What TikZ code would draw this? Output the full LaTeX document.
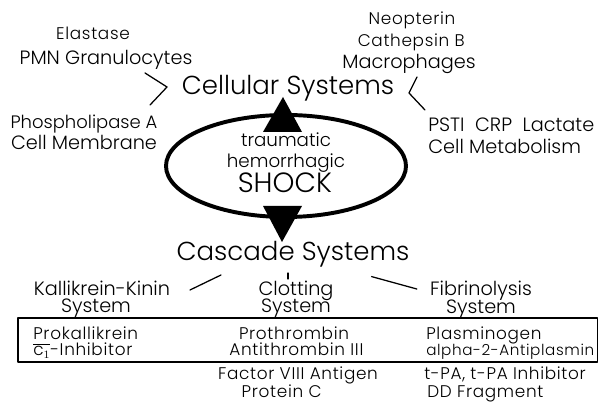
\documentclass[tikz,border=0pt]{standalone}
\usepackage{fontspec}
\setmainfont{Poppins}[UprightFont=* Light]
\usetikzlibrary{shapes.geometric,positioning,calc}

\begin{document}
\begin{tikzpicture}[
      small/.style={font={\fontsize{12}{14}\selectfont\addfontfeatures{LetterSpace=4}},
                    inner sep=0pt,text height=0.72em,text depth=0.18em,yshift=-0.07cm},
      medium/.style={font=\fontsize{13.7}{16}\selectfont,inner sep=0pt,
                    text height=0.72em,text depth=0.18em,yshift=-0.07cm},
      big/.style={font=\fontsize{18.5}{21}\selectfont,inner sep=0pt,
                    text height=0.72em,text depth=0.18em,yshift=-0.07cm},
      thin/.style={line width=0.9pt,line cap=round,line join=round}]

      \useasboundingbox (0,0) rectangle (15,10.075);

      % Zellsysteme
      \node[big] (cellular) at (7.2,7.875) {Cellular Systems};
      \node[small]  (elastase) at (2.325,9.25)  {Elastase};
      \node[medium] (pmn)      at (2.65,8.625)  {PMN Granulocytes};
      \node[medium,font=\fontsize{12.8}{15}\selectfont] (phospho)  at (2.1,7.025) {Phospholipase A};
      \node[medium] (membrane) at (2.1,6.5)     {Cell Membrane};
      \node[small]  (neopterin) at (10.3,9.625) {Neopterin};
      \node[small]  (cathepsin) at (10.28,9.075) {Cathepsin B};
      \node[medium] (macro)     at (10.225,8.525) {Macrophages};
      \node[medium,anchor=west] (psti)  at (10.7,6.95) {PSTI\ \ CRP\ \ Lactate};
      \node[medium,anchor=west] (metab) at (10.7,6.4)  {Cell Metabolism};

      \coordinate (lt) at (3.625,8.25);
      \coordinate (lv) at (4.175,7.9);
      \coordinate (lb) at (3.75,7.45);
      \draw[thin] (lt) -- (lv) -- (lb);
      \coordinate (rt) at (10.425,8.15);
      \coordinate (rv) at (10.225,7.75);
      \coordinate (rb) at (10.625,7.325);
      \draw[thin] (rt) -- (rv) -- (rb);

      % Schock
      \node[ellipse,draw,line width=2.8pt,minimum width=6cm,minimum height=2.55cm]
        (ring) at (7.15,5.925) {};
      \node[medium,font=\fontsize{13}{15}\selectfont] (trauma) at (7.15,6.575) {traumatic};
      \node[medium,font=\fontsize{13}{15}\selectfont] (hemo)   at (7.15,6.05)  {hemorrhagic};
      \node[big,font=\fontsize{19.8}{22}\selectfont] (shock) at (7.12,5.425) {SHOCK};
      \fill (7.075,7.65) -- (7.55,6.775) -- (6.575,6.775) -- cycle;
      \fill (6.575,4.925) -- (7.55,4.925) -- (7.05,4.025) -- cycle;

      % Kaskadensysteme
      \node[big] (cascade) at (7.325,3.725) {Cascade Systems};
      \node[medium] (kalli) at (2.55,2.86)  {Kallikrein-Kinin};
      \node[medium] (ksys)  at (2.4,2.42)   {System};
      \node[medium] (clot)  at (7.4,2.86)   {Clotting};
      \node[medium] (csys)  at (7.4,2.42)   {System};
      \node[medium] (fibri) at (12.025,2.86) {Fibrinolysis};
      \node[medium] (fsys)  at (12.025,2.4) {System};

      \coordinate (kl) at (4.75,2.825);
      \coordinate (kr) at (5.525,3.2);
      \draw[thin] (kl) -- (kr);
      \coordinate (ct) at (7.2,3.25);
      \coordinate (cb) at (7.2,3.1);
      \draw[thin] (ct) -- (cb);
      \coordinate (fl) at (9.29,3.16);
      \coordinate (fr) at (10.42,2.85);
      \draw[thin] (fl) -- (fr);

      \draw[thin,line cap=butt] (0.45,2.125) rectangle (14.94,1.025);

      \node[small,anchor=west] (prok)   at (0.825,1.75)  {Prokallikrein};
      \node[small,anchor=west] (inhib)  at (0.825,1.35)  {$\overline{\mbox{c}_1}$-Inhibitor};
      \node[small] (prothr)  at (7.35,1.75)  {Prothrombin};
      \node[small] (antithr) at (7.41,1.35)  {Antithrombin III};
      \node[small,anchor=west] (plasmino) at (10.65,1.75) {Plasminogen};
      \node[small,anchor=west,font={\fontsize{10.8}{13}\selectfont\addfontfeatures{LetterSpace=4}}]
        (alpha) at (10.65,1.35) {alpha-2-Antiplasmin};
      \node[small] (factor)  at (7.45,0.76)  {Factor VIII Antigen};
      \node[small] (protein) at (7.04,0.29)  {Protein C};
      \node[small,anchor=west] (tpa) at (10.6,0.76)  {t-PA, t-PA Inhibitor};
      \node[small,anchor=west] (dd)  at (10.675,0.29) {DD Fragment};
    \end{tikzpicture}
\end{document}
